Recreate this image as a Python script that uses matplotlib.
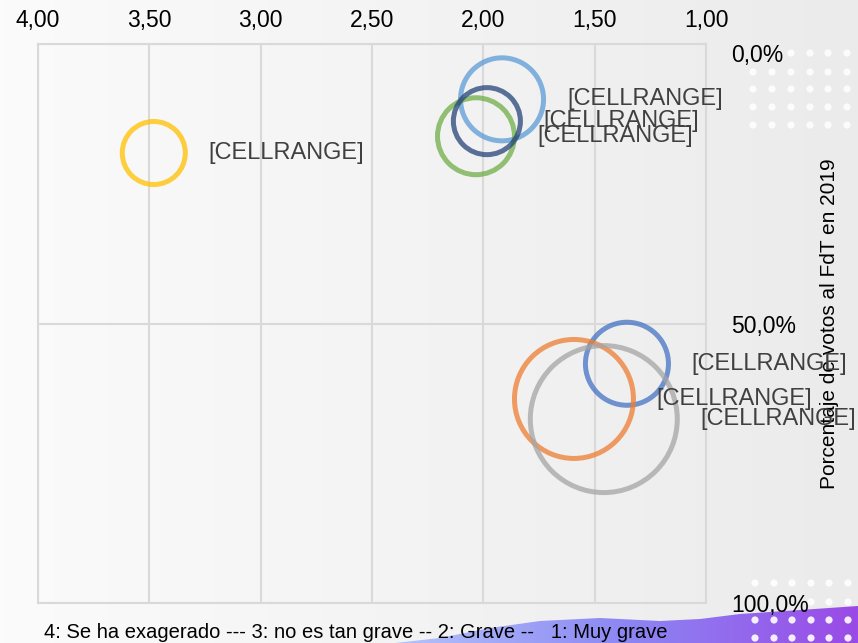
import numpy as np
import matplotlib
matplotlib.use("Agg")
import matplotlib.pyplot as plt
from matplotlib.patches import Polygon, Circle
from matplotlib.ticker import FuncFormatter

# ---------------- data ----------------
labels = ["[CELLRANGE]"] * 7
series_names = ["S1", "S2", "S3", "S4", "S5", "S6", "S7"]
gravedad = [1.355, 1.593, 1.459, 3.48, 1.916, 2.033, 1.984]          # x: 4 = exagerado ... 1 = muy grave
voto_fdt = [0.572, 0.635, 0.671, 0.195, 0.099, 0.165, 0.138]          # y: share of FdT vote 2019
bubble_size = [31.9, 65.5, 100.0, 18.4, 31.9, 27.4, 20.8]             # relative bubble size
colors = ["#4472C4", "#ED7D31", "#A5A5A5", "#FFC000", "#5B9BD5", "#70AD47", "#264478"]
x_ticks = [4.0, 3.5, 3.0, 2.5, 2.0, 1.5, 1.0]
y_ticks = [0.0, 0.5, 1.0]

W, H, DPI = 858, 643, 100
plt.rcParams['font.family'] = ['Liberation Sans', 'DejaVu Sans']

fig = plt.figure(figsize=(W / DPI, H / DPI), dpi=DPI)

# ---------------- decorative background ----------------
bg = fig.add_axes([0, 0, 1, 1], zorder=0)
bg.set_xlim(0, W)
bg.set_ylim(H, 0)
bg.axis("off")
grad = np.linspace(0, 1, 256)[None, :]
bg.imshow(grad, extent=[0, W, H, 0], aspect="auto",
          cmap=matplotlib.colors.LinearSegmentedColormap.from_list("g", ["#fbfbfb", "#ebebeb"]),
          zorder=0)
# purple wave
wave = [(395, 643), (440, 638), (490, 628), (540, 621), (600, 618), (660, 621),
        (700, 619), (740, 614), (800, 610), (858, 606), (858, 643)]
poly = Polygon(wave, closed=True, facecolor="none", edgecolor="none", transform=bg.transData)
bg.add_patch(poly)
wimg = bg.imshow(np.linspace(0, 1, 256)[None, :], extent=[395, W, H, 600], aspect="auto",
                 cmap=matplotlib.colors.LinearSegmentedColormap.from_list("p", ["#b4c4fa", "#8c86f3", "#9a4ae6"]),
                 zorder=1)
wimg.set_clip_path(poly)
# dot grids
for yy in [53, 72, 89, 107, 125]:
    for xx in [753, 772, 791, 810, 828, 847]:
        if yy == 53 and xx < 790:
            continue
        bg.add_patch(Circle((xx, yy), 3.6, color="white", alpha=0.85, lw=0, zorder=2))
for yy in [583, 602, 620, 638]:
    for xx in [755, 774, 792, 811, 829, 848]:
        if yy == 602 and xx < 800:
            continue
        bg.add_patch(Circle((xx, yy), 3.6, color="white", alpha=0.9, lw=0, zorder=2))

# ---------------- chart ----------------
L, R, T, B = 38, 706, 44, 603
ax = fig.add_axes([L / W, 1 - B / H, (R - L) / W, (B - T) / H], zorder=2)
ax.patch.set_alpha(0)
ax.set_xlim(4, 1)
ax.set_ylim(1, 0)
ax.set_xticks(x_ticks)
ax.set_yticks(y_ticks)
ax.xaxis.tick_top()
ax.yaxis.tick_right()
ax.xaxis.set_major_formatter(FuncFormatter(lambda v, p: f"{v:.2f}".replace(".", ",")))
ax.yaxis.set_major_formatter(FuncFormatter(lambda v, p: f"{v*100:.1f}%".replace(".", ",")))
ax.tick_params(axis="x", length=0, pad=9, labelsize=16.5, colors="black")
ax.tick_params(axis="y", length=0, pad=18, labelsize=16.5, colors="black")
ylabs = ax.get_yticklabels()
for lab in ylabs:
    lab.set_horizontalalignment("left")
ylabs[0].set_verticalalignment("top")
ax.grid(True, color="#d9d9d9", lw=1.5)
for sp in ax.spines.values():
    sp.set_color("#d9d9d9")
    sp.set_linewidth(1.5)
ax.set_axisbelow(True)

ax.yaxis.set_label_position("right")
ax.set_ylabel("Porcentaje de votos al FdT en 2019", fontsize=15, rotation=90)
ax.yaxis.set_label_coords(1.17, 0.5)

scale = 112.0
lw_pt = 3.6
for i in range(len(gravedad)):
    s = bubble_size[i] * scale
    ax.scatter([gravedad[i]], [voto_fdt[i]], s=s, facecolors="none",
               edgecolors=colors[i], linewidths=lw_pt, alpha=0.75, zorder=3 + i)
    r_pt = np.sqrt(s) / 2 + lw_pt / 2
    ax.annotate(labels[i], (gravedad[i], voto_fdt[i]), xytext=(r_pt + 15, 0),
                textcoords="offset points", ha="left", va="center",
                fontsize=17, color="#404040", zorder=20, annotation_clip=False)

fig.text(356 / W, 1 - 632 / H,
         "4: Se ha exagerado --- 3: no es tan grave -- 2: Grave --   1: Muy grave",
         ha="center", va="center", fontsize=14.5, color="black", zorder=5)

fig.savefig("out.png", dpi=DPI)
